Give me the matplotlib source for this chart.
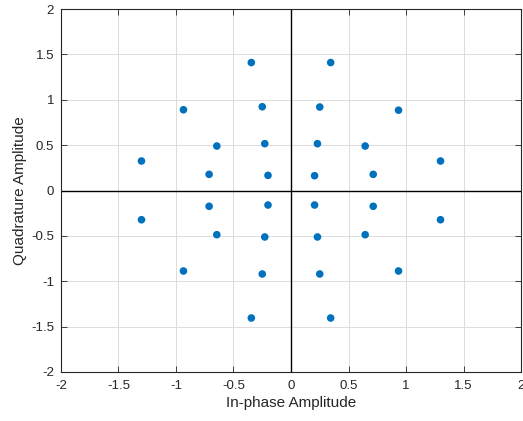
import numpy as np
from matplotlib import pyplot as plt

# received symbols, in-phase and quadrature parts
i_vals = np.array([
    0.345, -0.345, 0.345, -0.345,
    0.935, -0.935, 0.935, -0.935,
    1.30, -1.30, 1.30, -1.30,
    0.25, -0.25, 0.25, -0.25,
    0.645, -0.645, 0.645, -0.645,
    0.715, -0.712, 0.715, -0.712,
    0.23, -0.228, 0.23, -0.228,
    0.205, -0.20, 0.205, -0.20,
])
q_vals = np.array([
    1.41, 1.41, -1.405, -1.405,
    0.885, 0.89, -0.887, -0.887,
    0.325, 0.325, -0.322, -0.322,
    0.92, 0.923, -0.92, -0.92,
    0.49, 0.49, -0.487, -0.487,
    0.178, 0.178, -0.174, -0.174,
    0.516, 0.516, -0.512, -0.512,
    0.163, 0.167, -0.16, -0.16,
])

ticks = [-2, -1.5, -1, -0.5, 0, 0.5, 1, 1.5, 2]
tick_labels = ["-2", "-1.5", "-1", "-0.5", "0", "0.5", "1", "1.5", "2"]

plt.rcParams["font.family"] = ["Liberation Sans", "DejaVu Sans"]
text_col = "#262626"

fig = plt.figure(figsize=(5.23, 4.21), dpi=100)
ax = fig.add_axes([0.1166, 0.1164, 0.8796, 0.8622])

ax.axhline(0, color="black", lw=1.0, zorder=1)
ax.axvline(0, color="black", lw=1.0, zorder=1)
ax.scatter(i_vals, q_vals, s=30, color="#0072BD", edgecolors="none", zorder=3)

ax.set_xlim(-2, 2)
ax.set_ylim(-2, 2)
ax.set_xticks(ticks)
ax.set_xticklabels(tick_labels)
ax.set_yticks(ticks)
ax.set_yticklabels(tick_labels)
ax.grid(True, color="#dcdcdc", lw=0.7, zorder=0)
ax.set_axisbelow(True)

ax.tick_params(direction="in", top=True, right=True, length=4, width=0.6,
               colors="#262626", labelsize=9.5)
ax.tick_params(axis="x", pad=6)
ax.tick_params(axis="y", pad=5)
for sp in ax.spines.values():
    sp.set_linewidth(0.8)
    sp.set_color(text_col)

ax.set_xlabel("In-phase Amplitude", fontsize=11, color=text_col, labelpad=3)
ax.set_ylabel("Quadrature Amplitude", fontsize=11, color=text_col, labelpad=3)

plt.savefig("out.png", dpi=100)
